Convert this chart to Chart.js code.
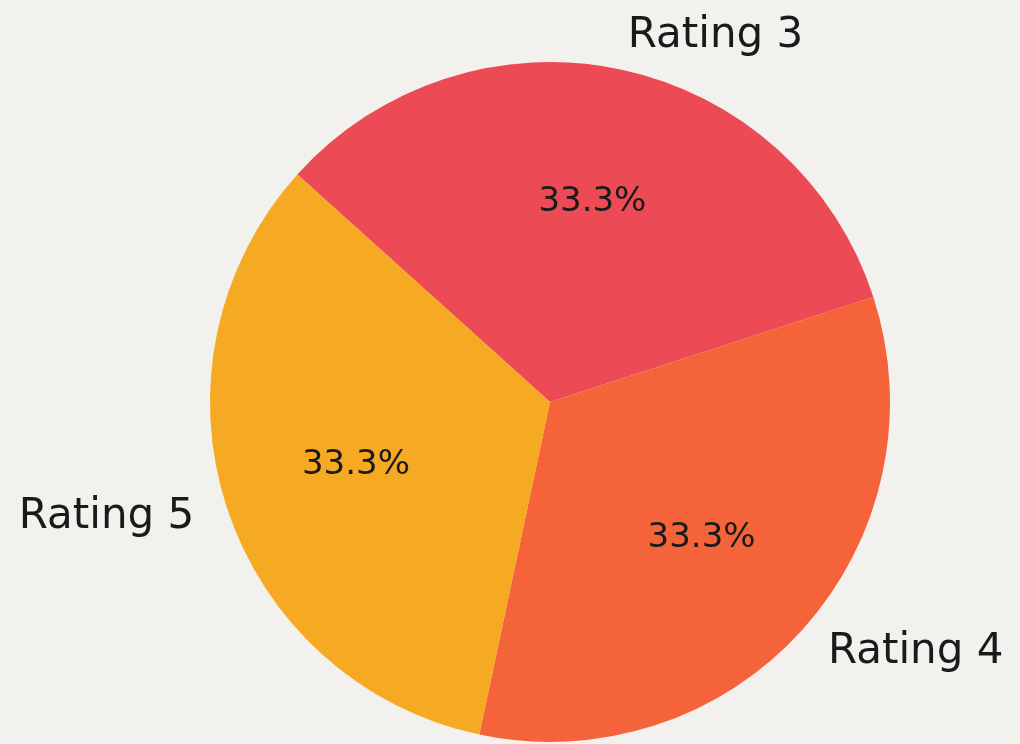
<!DOCTYPE html>
<html>
<head>
<meta charset="utf-8">
<script src="https://cdn.jsdelivr.net/npm/chart.js@4"></script>
<style>
  html, body { margin: 0; padding: 0; background: #f2f1ee; }
  #wrap { width: 1020px; height: 744px; position: relative; }
</style>
</head>
<body>
<div id="wrap"><canvas id="ratingChart"></canvas></div>
<script>
const labels = ["Rating 3", "Rating 4", "Rating 5"];
const values = [1, 1, 1];
const colors = ["#ec4b55", "#f5633a", "#f6a922"];

// draws matplotlib-like labels: names outside, percentages inside
const sliceLabels = {
    id: "sliceLabels",
    afterDatasetsDraw(chart) {
        const ctx = chart.ctx;
        const arcs = chart.getDatasetMeta(0).data;
        const total = values.reduce((a, b) => a + b, 0);
        ctx.save();
        ctx.fillStyle = "#1a1a1a";
        ctx.textBaseline = "middle";
        arcs.forEach((arc, i) => {
            const mid = (arc.startAngle + arc.endAngle) / 2;
            const r = arc.outerRadius;
            const cos = Math.cos(mid), sin = Math.sin(mid);

            ctx.font = "42px 'DejaVu Sans'";
            ctx.textAlign = cos > 0 ? "left" : "right";
            ctx.fillText(labels[i], arc.x + cos * r * 1.1, arc.y + sin * r * 1.1);

            ctx.font = "34px 'DejaVu Sans'";
            ctx.textAlign = "center";
            const pct = (values[i] / total * 100).toFixed(1) + "%";
            ctx.fillText(pct, arc.x + cos * r * 0.6, arc.y + sin * r * 0.6);
        });
        ctx.restore();
    }
};

const config = {
    type: "pie",
    data: {
        labels,
        datasets: [{
            data: values,
            backgroundColor: colors,
            borderWidth: 0
        }]
    },
    options: {
        responsive: true,
        maintainAspectRatio: false,
        animation: false,
        rotation: -48,
        layout: { padding: { top: 62, bottom: 2, left: 210, right: 130 } },
        plugins: {
            legend: { display: false },
            tooltip: { enabled: false }
        }
    },
    plugins: [sliceLabels]
};

new Chart(document.getElementById("ratingChart"), config);
</script>
</body>
</html>
